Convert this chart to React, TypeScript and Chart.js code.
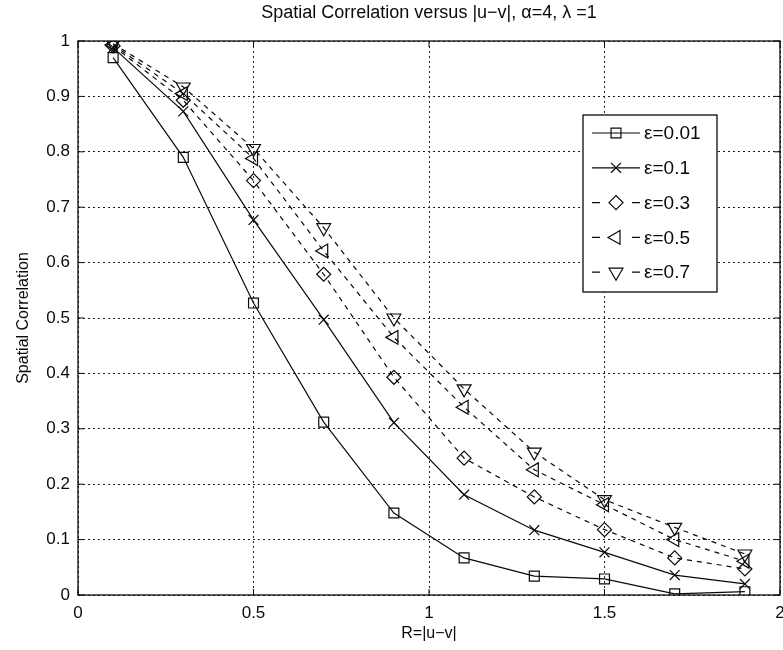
import React, { useEffect, useRef } from 'react';
import { Chart, registerables } from 'chart.js';
import { drawPoint } from 'chart.js/helpers';

Chart.register(...registerables);

// ---- data ----
const xValues = [0.1, 0.3, 0.5, 0.7, 0.9, 1.1, 1.3, 1.5, 1.7, 1.9];
const eps001 = [0.97, 0.79, 0.527, 0.312, 0.148, 0.067, 0.034, 0.029, 0.002, 0.006];
const eps01 = [0.988, 0.873, 0.677, 0.497, 0.311, 0.181, 0.117, 0.077, 0.036, 0.02];
const eps03 = [0.991, 0.893, 0.748, 0.579, 0.393, 0.247, 0.177, 0.118, 0.067, 0.047];
const eps05 = [0.993, 0.905, 0.788, 0.621, 0.465, 0.339, 0.226, 0.163, 0.1, 0.061];
const eps07 = [0.995, 0.917, 0.806, 0.663, 0.5, 0.372, 0.258, 0.172, 0.122, 0.074];
const seriesLabels = ['ε=0.01', 'ε=0.1', 'ε=0.3', 'ε=0.5', 'ε=0.7'];
const xTickValues = [0, 0.5, 1, 1.5, 2];
const xTickLabels = ['0', '0.5', '1', '1.5', '2'];
const yTickValues = [0, 0.1, 0.2, 0.3, 0.4, 0.5, 0.6, 0.7, 0.8, 0.9, 1];
const yTickLabels = ['0', '0.1', '0.2', '0.3', '0.4', '0.5', '0.6', '0.7', '0.8', '0.9', '1'];
const chartTitle = 'Spatial Correlation versus |u\u2212v|, \u03b1=4, \u03bb =1';
const xTitle = 'R=|u\u2212v|';
const yTitle = 'Spatial Correlation';

const FONT = '"Liberation Sans", Arial, Helvetica, sans-serif';
const INK = '#0a0a0a';

const styles = [
  { pointStyle: 'rect', rotation: 0, radius: 7, dash: [] as number[] },
  { pointStyle: 'crossRot', rotation: 0, radius: 7, dash: [] as number[] },
  { pointStyle: 'rectRot', rotation: 0, radius: 7, dash: [5, 5] },
  { pointStyle: 'triangle', rotation: -90, radius: 8, dash: [5, 5] },
  { pointStyle: 'triangle', rotation: 180, radius: 8, dash: [5, 5] },
];
const seriesValues = [eps001, eps01, eps03, eps05, eps07];

const decorPlugin = {
  id: 'decor',
  afterDraw(chart: any) {
    const { ctx, chartArea } = chart;
    const { left, right, top, bottom } = chartArea;
    const xs = chart.scales.x;
    const ys = chart.scales.y;
    ctx.save();
    // frame
    ctx.strokeStyle = INK;
    ctx.lineWidth = 1.3;
    ctx.setLineDash([]);
    ctx.strokeRect(left, top, right - left, bottom - top);
    // inner ticks
    ctx.lineWidth = 1;
    const tl = 6;
    ctx.beginPath();
    xTickValues.forEach((v) => {
      const px = xs.getPixelForValue(v);
      ctx.moveTo(px, bottom);
      ctx.lineTo(px, bottom - tl);
      ctx.moveTo(px, top);
      ctx.lineTo(px, top + tl);
    });
    yTickValues.forEach((v) => {
      const py = ys.getPixelForValue(v);
      ctx.moveTo(left, py);
      ctx.lineTo(left + tl, py);
      ctx.moveTo(right, py);
      ctx.lineTo(right - tl, py);
    });
    ctx.stroke();

    // title
    ctx.fillStyle = INK;
    ctx.font = `18px ${FONT}`;
    ctx.textAlign = 'center';
    ctx.textBaseline = 'middle';
    ctx.fillText(chartTitle, (left + right) / 2, 13);

    // legend
    const bx = 583, by = 115, bw = 134, bh = 177;
    ctx.fillStyle = '#fff';
    ctx.fillRect(bx, by, bw, bh);
    ctx.strokeStyle = INK;
    ctx.lineWidth = 1.3;
    ctx.strokeRect(bx, by, bw, bh);
    ctx.font = `19px ${FONT}`;
    ctx.textAlign = 'left';
    seriesLabels.forEach((lab, i) => {
      const st = styles[i];
      const cy = by + 18 + i * 34.8;
      ctx.strokeStyle = INK;
      ctx.lineWidth = 1.2;
      ctx.beginPath();
      if (st.dash.length) {
        ctx.moveTo(592, cy); ctx.lineTo(600, cy);
        ctx.moveTo(632, cy); ctx.lineTo(640, cy);
      } else {
        ctx.moveTo(592, cy); ctx.lineTo(640, cy);
      }
      ctx.stroke();
      ctx.fillStyle = 'rgba(0,0,0,0)';
      drawPoint(ctx, { pointStyle: st.pointStyle, rotation: st.rotation, radius: st.radius, borderWidth: 1.2 } as any, 616, cy);
      ctx.fillStyle = INK;
      ctx.fillText(lab, 644, cy + 1);
    });
    ctx.restore();
  },
};

export default function App() {
  const ref = useRef<HTMLCanvasElement | null>(null);
  useEffect(() => {
    if (!ref.current) return;
    const chart = new Chart(ref.current, {
      type: 'line',
      data: {
        datasets: seriesValues.map((vals, i) => ({
          label: seriesLabels[i],
          data: vals.map((y, j) => ({ x: xValues[j], y })),
          borderColor: INK,
          borderWidth: 1.2,
          borderDash: styles[i].dash,
          backgroundColor: 'rgba(0,0,0,0)',
          pointStyle: styles[i].pointStyle as any,
          rotation: styles[i].rotation,
          pointRadius: styles[i].radius,
          pointBorderColor: INK,
          pointBackgroundColor: 'rgba(0,0,0,0)',
          pointBorderWidth: 1.2,
          fill: false,
          tension: 0,
        })),
      },
      options: {
        responsive: false,
        animation: false,
        layout: { padding: { top: 41, right: 20, bottom: 0, left: 0 } },
        plugins: {
          legend: { display: false },
          title: { display: false },
          tooltip: { enabled: false },
        },
        scales: {
          x: {
            type: 'linear',
            min: 0,
            max: 2,
            afterFit: (s: any) => { s.height = 55; },
            afterBuildTicks: (s: any) => { s.ticks = xTickValues.map((v) => ({ value: v })); },
            ticks: {
              padding: 8,
              color: INK,
              font: { family: FONT, size: 17 },
              maxRotation: 0,
              callback: (v: any) => xTickLabels[xTickValues.indexOf(Number(v))] ?? '',
            },
            grid: { color: '#222', lineWidth: 1, drawTicks: false },
            border: { display: false, dash: [2, 3] },
            title: { display: true, text: xTitle, color: INK, font: { family: FONT, size: 16 }, padding: { top: 0, bottom: 7 } },
          },
          y: {
            type: 'linear',
            min: 0,
            max: 1,
            afterFit: (s: any) => { s.width = 78; },
            afterBuildTicks: (s: any) => { s.ticks = yTickValues.map((v) => ({ value: v })); },
            ticks: {
              padding: 8,
              color: INK,
              font: { family: FONT, size: 17 },
              callback: (v: any) => {
                const idx = yTickValues.findIndex((t) => Math.abs(t - Number(v)) < 1e-9);
                return idx >= 0 ? yTickLabels[idx] : '';
              },
            },
            grid: { color: '#222', lineWidth: 1, drawTicks: false },
            border: { display: false, dash: [2, 3] },
            title: { display: true, text: yTitle, color: INK, font: { family: FONT, size: 16 }, padding: { top: 14, bottom: 0 } },
          },
        },
      },
      plugins: [decorPlugin],
    });
    return () => chart.destroy();
  }, []);
  return (
    <div style={{ position: 'absolute', left: 0, top: 0, width: 783, height: 650, overflow: 'hidden', background: '#fff' }}>
      <canvas ref={ref} width={800} height={650} />
    </div>
  );
}
